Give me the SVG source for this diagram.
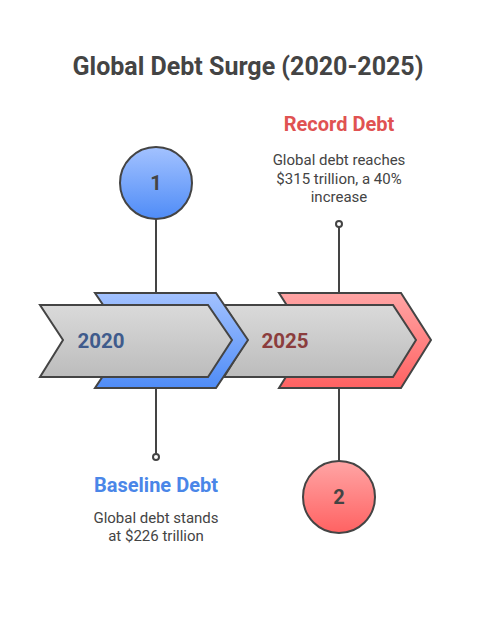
<svg xmlns="http://www.w3.org/2000/svg" width="495" height="622" viewBox="0 0 495 622">
<defs>
<linearGradient id="gBlue" x1="0" y1="0" x2="0" y2="1"><stop offset="0" stop-color="#a3c2ff"/><stop offset="1" stop-color="#4f8cf7"/></linearGradient>
<linearGradient id="gRed" x1="0" y1="0" x2="0" y2="1"><stop offset="0" stop-color="#ffa5a5"/><stop offset="1" stop-color="#ff6262"/></linearGradient>
<linearGradient id="gGray" x1="0" y1="0" x2="0" y2="1"><stop offset="0" stop-color="#dadada"/><stop offset="1" stop-color="#bcbcbc"/></linearGradient>
</defs>
<style>
.sh{stroke:#444;stroke-width:2;stroke-linejoin:miter}
.ln{stroke:#444;stroke-width:2;fill:none}
.dot{stroke:#444;stroke-width:2;fill:#fff}
text{font-family:Roboto,"Liberation Sans",sans-serif;text-anchor:middle}
.title{font-size:25px;font-weight:bold;fill:#444}
.head{font-size:20px;font-weight:bold}
.desc{font-size:15px;fill:#444}
.yr{font-size:20.5px;font-weight:bold}
.num{font-size:20px;font-weight:bold;fill:#444}
</style>
<text class="title" x="248" y="75">Global Debt Surge (2020-2025)</text>
<g id="connectors">
<line class="ln" x1="156" y1="219" x2="156" y2="293"/>
<line class="ln" x1="156" y1="388" x2="156" y2="454"/>
<circle class="dot" cx="156" cy="457" r="3"/>
<line class="ln" x1="339" y1="227" x2="339" y2="293"/>
<circle class="dot" cx="339" cy="224" r="3"/>
<line class="ln" x1="339" y1="388" x2="339" y2="461"/>
</g>
<g id="red-chevron"><polygon class="sh" fill="url(#gRed)" points="279,293 401,293 431,340 401,388 279,388 309,340"/></g>
<g id="gray-chevron-2"><polygon class="sh" fill="url(#gGray)" points="224,305 393,305 416,340 393,377 224,377 247,340"/>
<text class="yr" x="285" y="348" fill="#8b3d3d">2025</text></g>
<g id="blue-chevron"><polygon class="sh" fill="url(#gBlue)" points="95,293 216,293 248,340 216,388 95,388 127,340"/></g>
<g id="gray-chevron-1"><polygon class="sh" fill="url(#gGray)" points="40,305 208,305 232,340 208,377 40,377 63,340"/>
<text class="yr" x="101" y="348" fill="#3f5b8c">2020</text></g>
<g id="node-1"><circle class="sh" cx="156" cy="183" r="36" fill="url(#gBlue)"/><text class="num" x="156" y="190" fill="#3f5b8c">1</text></g>
<g id="node-2"><circle class="sh" cx="339" cy="497" r="36" fill="url(#gRed)"/><text class="num" x="339" y="504" fill="#8b3d3d">2</text></g>
<g id="record-debt">
<text class="head" x="339" y="131" fill="#e05252">Record Debt</text>
<text class="desc" x="339" y="165">Global debt reaches</text>
<text class="desc" x="339" y="184">$315 trillion, a 40%</text>
<text class="desc" x="339" y="202">increase</text>
</g>
<g id="baseline-debt">
<text class="head" x="156" y="492" fill="#4a86e8">Baseline Debt</text>
<text class="desc" x="156" y="523">Global debt stands</text>
<text class="desc" x="156" y="541">at $226 trillion</text>
</g>
</svg>
